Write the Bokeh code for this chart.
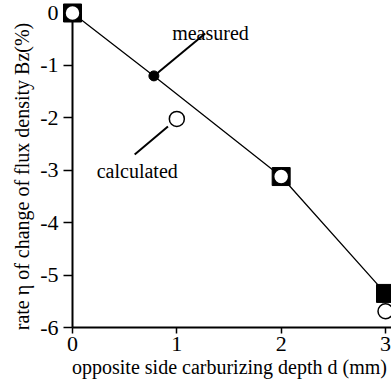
from bokeh.plotting import figure
from bokeh.models import Range1d, Label, ColumnDataSource, FixedTicker
from bokeh.embed import file_html
from bokeh.resources import INLINE

# ---- data ----
measured_d = [0.0, 0.78, 2.0, 3.0]
measured_eta = [0.0, -1.2, -3.12, -5.35]
measured_marker = ["square", "circle", "square", "square"]
calc_d = [0.0, 1.0, 2.0, 3.0]
calc_eta = [0.0, -2.02, -3.12, -5.69]
x_ticks = [0, 1, 2, 3]
y_ticks = [-6, -5, -4, -3, -2, -1, 0]
y_tick_labels = ["-6", "-5", "-4", "-3", "-2", "-1", "0"]
x_label = "opposite side carburizing depth d (mm)"
y_label = "rate η of change of flux density Bz(%)"

FONT = "Liberation Serif"
NB = "\u00a0"

p = figure(width=391, height=381, output_backend="svg", toolbar_location=None,
           x_range=Range1d(0, 3.0575), y_range=Range1d(-6.0, 0.143),
           min_border_left=72, min_border_right=0, min_border_top=5,
           min_border_bottom=54)
p.outline_line_color = None
p.grid.visible = False
p.background_fill_color = "white"
p.border_fill_color = "white"

xa = p.xaxis[0]
ya = p.yaxis[0]
xa.ticker = FixedTicker(ticks=x_ticks)
ya.ticker = FixedTicker(ticks=y_ticks)
ya.major_label_overrides = {t: s for t, s in zip(y_ticks, y_tick_labels)}
ya.bounds = (-6, 0)
for ax, tout, stand in ((xa, 6, 3), (ya, 9, 5)):
    ax.axis_line_width = 2
    ax.axis_line_color = "black"
    ax.major_tick_line_width = 1.5
    ax.major_tick_line_color = "black"
    ax.major_tick_in = 0
    ax.major_tick_out = tout
    ax.minor_tick_line_color = None
    ax.major_label_text_font = FONT
    ax.major_label_text_font_size = "22px"
    ax.major_label_text_color = "black"
    ax.major_label_standoff = stand
    ax.axis_label_text_font = FONT
    ax.axis_label_text_font_size = "20px"
    ax.axis_label_text_font_style = "normal"
    ax.axis_label_text_color = "black"
xa.axis_label = x_label + NB
ya.axis_label = y_label + NB * 4
xa.axis_label_standoff = 2
ya.axis_label_standoff = 4

# connecting line (measured)
p.line(measured_d, measured_eta, line_color="black", line_width=1.3)

# measured markers
msrc = ColumnDataSource(dict(x=measured_d, y=measured_eta, m=measured_marker,
                             s=[18 if m == "square" else 10 for m in measured_marker]))
p.scatter("x", "y", marker="m", size="s", source=msrc, level="overlay",
          fill_color="black", line_color="black", line_width=1)

# calculated markers
p.scatter(calc_d, calc_eta, marker="circle", size=15, fill_color="white",
          line_color="black", line_width=1.5, level="overlay")

# leader lines
p.line([1.272, measured_d[1]], [-0.391, measured_eta[1]], line_color="black", line_width=2)
p.line([0.596, 0.915], [-2.70, -2.165], line_color="black", line_width=2)

for x, y, t in ((0.955, -0.391, "measured"), (0.232, -3.018, "calculated")):
    p.add_layout(Label(x=x, y=y, text=t, text_font=FONT, text_font_size="20px",
                       text_color="black", text_align="left",
                       text_baseline="alphabetic"))

open("out.html", "w").write(file_html(p, INLINE))
